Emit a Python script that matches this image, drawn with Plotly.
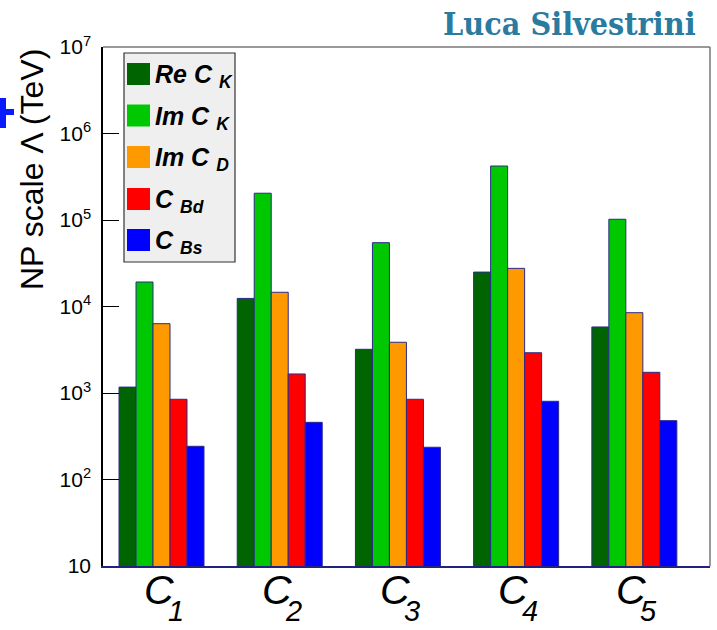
import math
import plotly.graph_objects as go

# Operator categories and NP-scale bounds (TeV) for each coefficient class
operators = ["C1", "C2", "C3", "C4", "C5"]
op_letters = ["C", "C", "C", "C", "C"]
op_indices = ["1", "2", "3", "4", "5"]

re_ck = [1170, 12400, 3200, 25000, 5800]
im_ck = [19200, 204000, 54700, 421000, 102000]
im_cd = [6330, 14600, 3860, 27600, 8480]
c_bd = [846, 1660, 846, 2920, 1735]
c_bs = [242, 458, 236, 802, 479]

series_names = ["Re C <sub>K</sub>", "Im C <sub>K</sub>", "Im C <sub>D</sub>",
                "C <sub>Bd</sub>", "C <sub>Bs</sub>"]
series_values = [re_ck, im_ck, im_cd, c_bd, c_bs]
series_colors = ["#006400", "#00c800", "#ff9900", "#ff0000", "#0000ff"]

y_tick_vals = [10, 100, 1000, 10000, 100000, 1000000, 10000000]
y_tick_text = ["10", "10<sup>2</sup>", "10<sup>3</sup>", "10<sup>4</sup>",
               "10<sup>5</sup>", "10<sup>6</sup>", "10<sup>7</sup>"]

# page geometry (pixels) of the plotting frame
W, H = 717, 630
FL, FR, FT, FB = 103, 710, 47, 566
X_RANGE = [-0.495, 4.64]
UNIT = (FR - FL) / (X_RANGE[1] - X_RANGE[0])  # pixels per category step


def px(x):
    return (x - FL) / (FR - FL)


def py(y):
    return (FB - y) / (FB - FT)


fig = go.Figure()
x_idx = list(range(len(operators)))
for name, vals, col in zip(series_names, series_values, series_colors):
    fig.add_trace(go.Bar(
        x=x_idx, y=vals, name=name,
        marker=dict(color=col, line=dict(color="#2a2a8a", width=1)),
        showlegend=False,
    ))

fig.update_layout(
    width=W, height=H,
    margin=dict(l=FL, r=W - FR, t=FT, b=H - FB),
    paper_bgcolor="white", plot_bgcolor="white",
    barmode="group", bargap=0.281, bargroupgap=0,
    font=dict(family="Liberation Sans, Arial, sans-serif", color="black"),
    xaxis=dict(
        range=X_RANGE, tickmode="array", tickvals=x_idx, showticklabels=False,
        showline=True, linecolor="#222280", linewidth=1.5, ticks="",
        showgrid=False, zeroline=False, automargin=False,
    ),
    yaxis=dict(
        type="log", range=[1, 7], tickmode="array",
        tickvals=y_tick_vals, ticktext=y_tick_text,
        tickfont=dict(size=21),
        ticks="inside", ticklen=16, tickcolor="black", tickwidth=1,
        showline=True, linecolor="black", linewidth=1.5,
        showgrid=False, zeroline=False, ticklabelstandoff=6, automargin=False,
    ),
)

shapes = []
# minor ticks on the log axis (2..9 within each decade)
for n in range(1, 7):
    for k in range(2, 10):
        lv = math.log10(k * 10 ** n)
        shapes.append(dict(type="line", xref="paper", yref="y",
                           x0=0, x1=8 / (FR - FL), y0=lv, y1=lv,
                           line=dict(color="black", width=1)))

# gray frame on top and right
shapes.append(dict(type="line", xref="paper", yref="paper", x0=0, x1=1, y0=1, y1=1,
                   line=dict(color="#777777", width=1.5)))
shapes.append(dict(type="line", xref="paper", yref="paper", x0=1, x1=1, y0=0, y1=1,
                   line=dict(color="#777777", width=1.5)))

# legend box
shapes.append(dict(type="rect", xref="paper", yref="paper",
                   x0=px(124), x1=px(235), y0=py(262), y1=py(53),
                   fillcolor="#efefef", line=dict(color="#333333", width=1.2)))

annotations = []
entry_centers = [74, 115.5, 157, 199, 240]
for name, col, yc in zip(series_names, series_colors, entry_centers):
    shapes.append(dict(type="rect", xref="paper", yref="paper",
                       x0=px(127), x1=px(150), y0=py(yc + 11), y1=py(yc - 11),
                       fillcolor=col, line=dict(color=col, width=0)))
    annotations.append(dict(xref="paper", yref="paper", x=px(153), y=py(yc + 2),
                            xanchor="left", yanchor="middle", showarrow=False,
                            text="<b><i>" + name + "</i></b>",
                            font=dict(size=25, color="black",
                                      family="Liberation Sans, Arial, sans-serif")))

# operator labels under each group: italic C with a lowered index
for i, (letter, idx) in enumerate(zip(op_letters, op_indices)):
    annotations.append(dict(xref="x", yref="paper", x=i - 3 / UNIT, y=py(590),
                            xanchor="center", yanchor="middle", showarrow=False,
                            text="<i>" + letter + "</i>", borderpad=0,
                            font=dict(size=41, color="black",
                                      family="Liberation Sans, Arial, sans-serif")))
    annotations.append(dict(xref="x", yref="paper", x=i + 14 / UNIT, y=py(611),
                            xanchor="center", yanchor="middle", showarrow=False,
                            text="<i>" + idx + "</i>", borderpad=0,
                            font=dict(size=29, color="black",
                                      family="Liberation Sans, Arial, sans-serif")))

# blue cross at the left margin
shapes.append(dict(type="line", xref="paper", yref="paper",
                   x0=px(3), x1=px(3), y0=py(128), y1=py(98),
                   line=dict(color="#0a1aff", width=6)))
shapes.append(dict(type="line", xref="paper", yref="paper",
                   x0=px(-2), x1=px(14), y0=py(112), y1=py(112),
                   line=dict(color="#0a1aff", width=6)))

# axis title
annotations.append(dict(xref="paper", yref="paper", x=px(32), y=py(170),
                        xanchor="center", yanchor="middle", showarrow=False,
                        textangle=-90, text="NP scale \u039b (TeV)",
                        font=dict(size=32, color="black",
                                  family="Liberation Sans, Arial, sans-serif")))

# author header
annotations.append(dict(xref="paper", yref="paper", x=px(698), y=py(24),
                        xanchor="right", yanchor="middle", showarrow=False,
                        text="<b>Luca Silvestrini</b>",
                        font=dict(size=32, color="#2a7ba0",
                                  family="DejaVu Serif Condensed, DejaVu Serif, serif")))

fig.update_layout(shapes=shapes, annotations=annotations)

fig.write_html("out.html")
